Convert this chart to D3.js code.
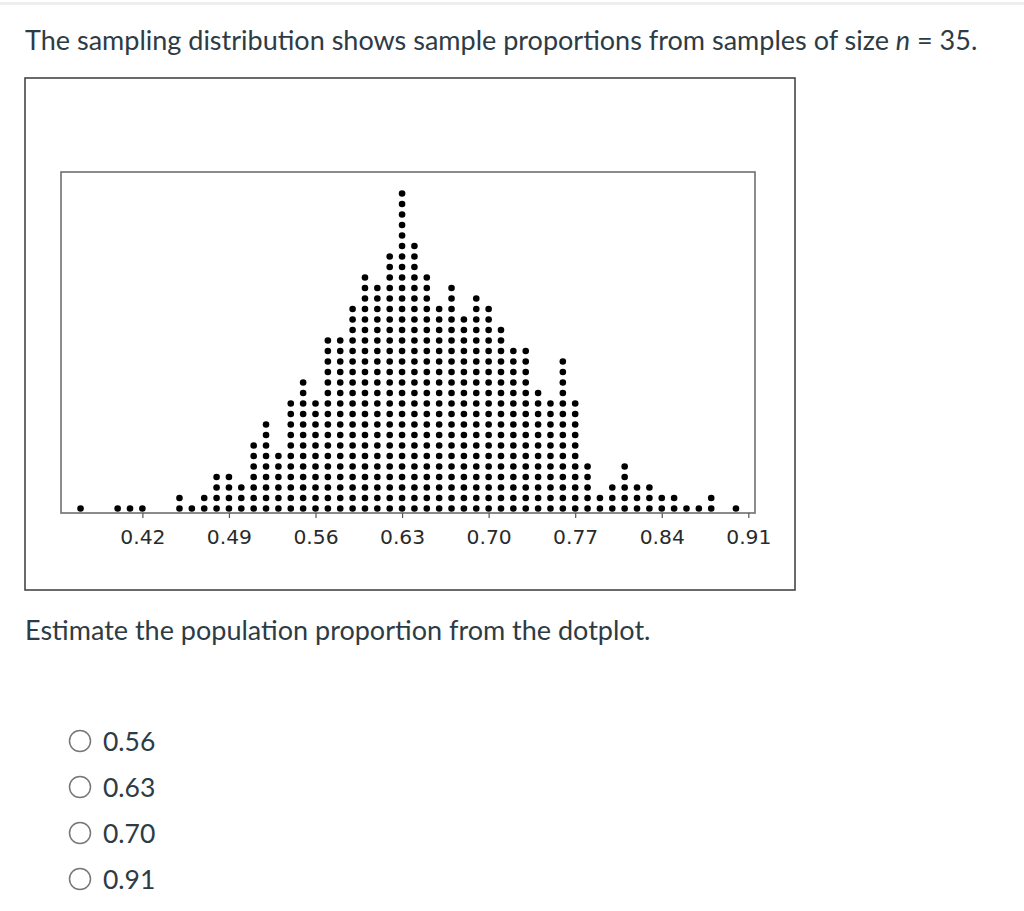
<!DOCTYPE html>
<html>
<head>
<meta charset="utf-8">
<script src="https://cdn.jsdelivr.net/npm/d3@7"></script>
<style>
  body { margin: 0; background: #fff; }
  svg { display: block; }
</style>
</head>
<body>
<svg id="page"></svg>
<script>
// Bin centres of the dotplot (sample proportions) and number of dots in each
const binValues = [0.37, 0.40, 0.41, 0.42, 0.45, 0.46, 0.47, 0.48, 0.49, 0.50,
  0.51, 0.52, 0.53, 0.54, 0.55, 0.56, 0.57, 0.58, 0.59, 0.60,
  0.61, 0.62, 0.63, 0.64, 0.65, 0.66, 0.67, 0.68, 0.69, 0.70,
  0.71, 0.72, 0.73, 0.74, 0.75, 0.76, 0.77, 0.78, 0.79, 0.80,
  0.81, 0.82, 0.83, 0.84, 0.85, 0.86, 0.87, 0.88, 0.90];
const binCounts = [1, 1, 1, 1, 2, 1, 2, 4, 4, 3,
  7, 9, 6, 11, 13, 11, 17, 17, 20, 23,
  22, 25, 31, 26, 23, 20, 22, 19, 21, 20,
  18, 16, 16, 12, 11, 15, 11, 5, 2, 3,
  5, 3, 3, 2, 2, 1, 1, 2, 1];
const tickValues = [0.42, 0.49, 0.56, 0.63, 0.70, 0.77, 0.84, 0.91];
const answerChoices = ["0.56", "0.63", "0.70", "0.91"];

const textColor = "#2d3b45";
const width = 1024, height = 911;

const svg = d3.select("#page")
  .attr("width", width)
  .attr("height", height);

// thin grey rule at the very top
svg.append("rect")
  .attr("x", 0).attr("y", 2)
  .attr("width", width).attr("height", 3)
  .attr("fill", "#eeeeee");

// Question text
const title = svg.append("text")
  .attr("x", 25).attr("y", 50)
  .attr("font-family", "Lato")
  .attr("font-size", 27)
  .attr("fill", textColor);
title.append("tspan").text("The sampling distribution shows sample proportions from samples of size ");
title.append("tspan").attr("font-style", "italic").text("n");
title.append("tspan").text(" = 35.");

// Outer image frame
svg.append("rect")
  .attr("x", 25).attr("y", 78)
  .attr("width", 770).attr("height", 512)
  .attr("fill", "#fff")
  .attr("stroke", "#3a3a3a")
  .attr("stroke-width", 1.5);

// Plot area
const plot = { left: 61, right: 755, top: 172, bottom: 513 };

const x = d3.scaleLinear()
  .domain([0.355, 0.915])
  .range([plot.left + 1, plot.right - 0.5]);

// stack rows from the axis upward
const rowStep = 10.5;
const y = d3.scaleLinear()
  .domain([0, 1])
  .range([plot.bottom - 4.5, plot.bottom - 4.5 - rowStep]);

// inner frame
svg.append("rect")
  .attr("x", plot.left).attr("y", plot.top)
  .attr("width", plot.right - plot.left).attr("height", plot.bottom - plot.top)
  .attr("fill", "none")
  .attr("stroke", "#6f6f6f")
  .attr("stroke-width", 1.6);

// X axis
const xAxis = d3.axisBottom(x)
  .tickValues(tickValues)
  .tickFormat(d3.format(".2f"))
  .tickSize(5)
  .tickSizeOuter(0)
  .tickPadding(12);

const axisG = svg.append("g")
  .attr("transform", `translate(0,${plot.bottom})`)
  .call(xAxis);
axisG.select(".domain").remove();
axisG.selectAll(".tick line").attr("stroke", "#555").attr("stroke-width", 1.2);
axisG.selectAll(".tick text")
  .attr("font-family", "DejaVu Sans")
  .attr("font-size", 20.3)
  .attr("fill", "#2a2a2a");

// Dots
const dots = [];
binValues.forEach((v, i) => {
  for (let r = 0; r < binCounts[i]; r++) dots.push({ value: v, row: r });
});

svg.append("g")
  .selectAll("circle")
  .data(dots)
  .enter()
  .append("circle")
  .attr("cx", d => x(d.value))
  .attr("cy", d => y(d.row))
  .attr("r", 3.3)
  .attr("fill", "#000");

// Prompt
svg.append("text")
  .attr("x", 25).attr("y", 640)
  .attr("font-family", "Lato")
  .attr("font-size", 27)
  .attr("fill", textColor)
  .text("Estimate the population proportion from the dotplot.");

// Answer choices
const choice = svg.append("g")
  .selectAll("g")
  .data(answerChoices)
  .enter()
  .append("g")
  .attr("transform", (d, i) => `translate(0,${741 + i * 46})`);

choice.append("circle")
  .attr("cx", 80).attr("cy", 0)
  .attr("r", 10.5)
  .attr("fill", "#fff")
  .attr("stroke", "#777")
  .attr("stroke-width", 1.5);

choice.append("text")
  .attr("x", 103).attr("y", 9.5)
  .attr("font-family", "Lato")
  .attr("font-size", 26.5)
  .attr("fill", textColor)
  .text(d => d);
</script>
</body>
</html>
